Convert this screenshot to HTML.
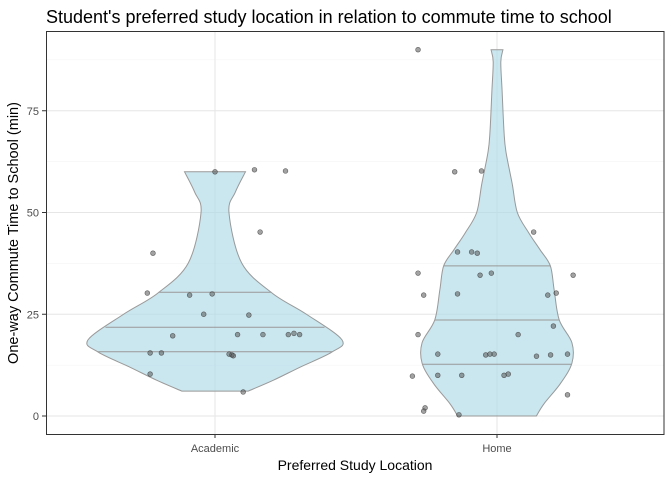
<!DOCTYPE html>
<html><head><meta charset="utf-8"><style>
body{margin:0;background:#fff;}
svg{display:block;font-family:"Liberation Sans",Arial,sans-serif;}
</style></head><body>
<svg id="chart" width="672" height="480">
<text x="46" y="23" font-size="18" fill="#000">Student's preferred study location in relation to commute time to school</text>
<g id="grid"></g><g id="violins"></g><g id="points"></g><g id="axes"></g>
<rect x="46.5" y="31.5" width="617.5" height="403" fill="none" stroke="#333" stroke-width="1"/>
<text x="355" y="470" font-size="14" text-anchor="middle" fill="#000">Preferred Study Location</text>
<text transform="translate(18,233) rotate(-90)" font-size="14.5" text-anchor="middle" fill="#000">One-way Commute Time to School (min)</text>
</svg>
<script>
const categories=["Academic","Home"];
const yTicks=[0,25,50,75];
const yMinor=[12.5,37.5,62.5,87.5];
// violin profiles: values and half-widths (fraction of max)
const acadProfileV=[6.1,8.8,12,15.7,18.7,25,30.2,37.6,50,55,60];
const acadProfileW=[0.26,0.46,0.67,0.92,1.0,0.72,0.45,0.21,0.11,0.16,0.24];
const homeProfileV=[0,3,8,13,18,23.6,31,36.9,40.8,45,50,57,65,70,80,87,90];
const homeProfileW=[0.31,0.37,0.5,0.59,0.59,0.49,0.45,0.42,0.34,0.25,0.16,0.12,0.07,0.055,0.04,0.03,0.047];
const acadQuant=[15.8,21.8,30.4];
const homeQuant=[12.7,23.6,36.9];
// points: jitter (category units) and values
const acadJit=[0,0.14,0.25,0.16,-0.22,-0.24,-0.09,-0.01,-0.04,0.12,-0.15,0.08,0.17,0.26,0.28,0.3,-0.23,-0.19,0.05,0.06,0.065,-0.23,0.1];
const acadVal=[60,60.5,60.2,45.2,40,30.2,29.7,30,25,24.8,19.7,20,20,20,20.3,20,15.5,15.5,15.2,15,14.8,10.3,5.9];
const homeJit=[-0.15,-0.055,-0.28,0.13,-0.14,-0.09,-0.07,-0.28,-0.06,-0.02,0.27,-0.26,-0.14,0.18,0.21,-0.28,0.075,0.2,-0.21,-0.04,-0.025,-0.01,0.14,0.19,0.25,-0.3,-0.21,-0.125,0.025,0.04,0.25,-0.255,-0.26,-0.135];
const homeVal=[60,60.2,90,45.2,40.3,40.3,40,35.1,34.6,35.1,34.6,29.7,30,29.7,30.2,20,20,22.1,15.2,15,15.2,15.2,14.7,15,15.2,9.8,10,10,10,10.3,5.2,2,1.2,0.3];

const NS="http://www.w3.org/2000/svg";
const L=46,R=664,T=31,B=434;
const xC=i=>215+i*282;
const y=v=>416-4.07*v;
const maxHW=127;
function mk(tag,attrs,parent){const e=document.createElementNS(NS,tag);for(const k in attrs)e.setAttribute(k,attrs[k]);document.getElementById(parent).appendChild(e);return e;}
yMinor.forEach(v=>{const e=mk('line',{x1:L,x2:R,y1:y(v),y2:y(v),stroke:'#f2f2f2','stroke-width':0.6},'grid');

});
yTicks.forEach(v=>{const e=mk('line',{x1:L,x2:R,y1:y(v),y2:y(v),stroke:'#e6e6e6','stroke-width':1},'grid');


const t=mk('text',{x:39,y:y(v)+4,'text-anchor':'end','font-size':11,fill:'#4d4d4d'},'axes');t.textContent=v;


const tk=mk('line',{x1:42,x2:46,y1:y(v),y2:y(v),stroke:'#333'},'axes');

});
categories.forEach((c,i)=>{const e=mk('line',{x1:xC(i),x2:xC(i),y1:T,y2:B,stroke:'#e6e6e6'},'grid');


const t=mk('text',{x:xC(i),y:452,'text-anchor':'middle','font-size':11,fill:'#4d4d4d'},'axes');t.textContent=c;


const tk=mk('line',{x1:xC(i),x2:xC(i),y1:434,y2:438,stroke:'#333'},'axes');

});
function interp(V,W,v){for(let k=0;k<V.length-1;k++){if(v>=V[k]&&v<=V[k+1]){const f=(v-V[k])/(V[k+1]-V[k]);return W[k]+f*(W[k+1]-W[k]);}}return 0;}
function spline(P,first){let d=first?'M'+P[0][0]+','+P[0][1]:'L'+P[0][0]+','+P[0][1];
for(let k=0;k<P.length-1;k++){const p0=P[Math.max(0,k-1)],p1=P[k],p2=P[k+1],p3=P[Math.min(P.length-1,k+2)];
const c1=[p1[0]+(p2[0]-p0[0])/6,p1[1]+(p2[1]-p0[1])/6],c2=[p2[0]-(p3[0]-p1[0])/6,p2[1]-(p3[1]-p1[1])/6];
d+='C'+c1[0]+','+c1[1]+' '+c2[0]+','+c2[1]+' '+p2[0]+','+p2[1];}return d;}
function violin(i,V,W,Q,name){const cx=xC(i);
const right=V.map((v,k)=>[cx+W[k]*maxHW,y(v)]);
const left=V.map((v,k)=>[cx-W[k]*maxHW,y(v)]).reverse();
const d=spline(right,true)+spline(left,false)+'Z';
const p=mk('path',{d:d,fill:'#add8e6','fill-opacity':0.65,stroke:'#999','stroke-width':1},'violins');


Q.forEach(q=>{const w=interp(V,W,q)*maxHW;const l=mk('line',{x1:cx-w,x2:cx+w,y1:y(q),y2:y(q),stroke:'#999','stroke-width':1},'violins');

});}
violin(0,acadProfileV,acadProfileW,acadQuant,'academic-violin');
violin(1,homeProfileV,homeProfileW,homeQuant,'home-violin');
function pts(i,J,Vs){J.forEach((j,k)=>{const c=mk('circle',{cx:xC(i)+j*282,cy:y(Vs[k]),r:2.4,fill:'#555','fill-opacity':0.55,stroke:'#333','stroke-opacity':0.7,'stroke-width':0.6},'points');

});}
pts(0,acadJit,acadVal);pts(1,homeJit,homeVal);
</script>
</body></html>
